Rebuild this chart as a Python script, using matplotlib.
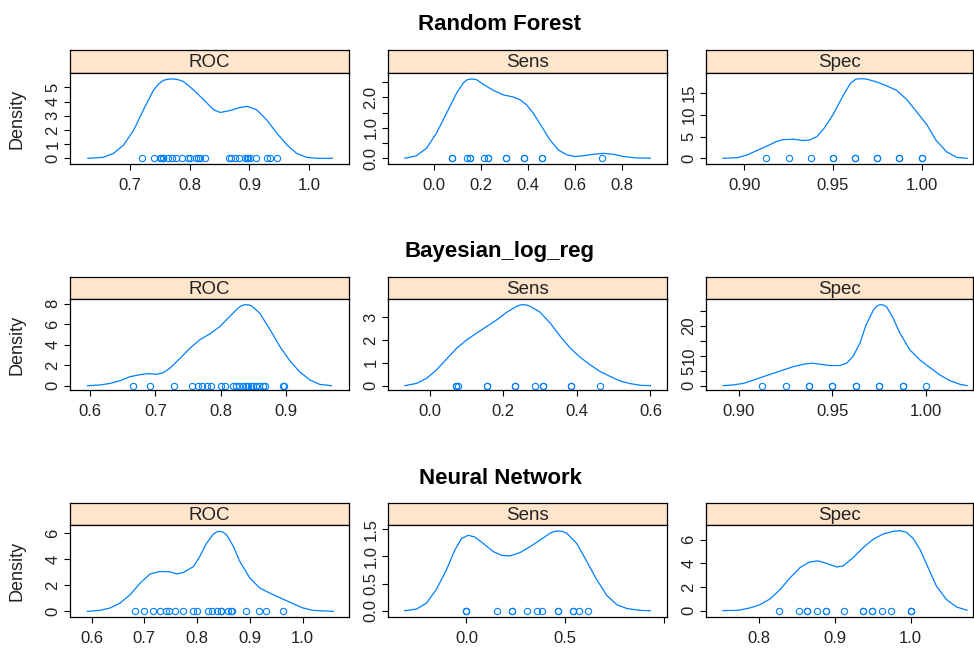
import matplotlib
matplotlib.use('Agg')
import matplotlib.pyplot as plt

plt.rcParams['font.family'] = ['Liberation Sans', 'DejaVu Sans']

# model titles and metric names
models = ['Random Forest', 'Bayesian_log_reg', 'Neural Network']
metrics = ['ROC', 'Sens', 'Spec']

# --- Random Forest ---
rf_roc_pts = [0.72, 0.74, 0.75, 0.752, 0.755, 0.755, 0.764, 0.77, 0.777, 0.787, 0.797, 0.80,
              0.811, 0.813, 0.817, 0.826, 0.866, 0.869, 0.876, 0.882, 0.893, 0.896, 0.898,
              0.901, 0.911, 0.929, 0.934, 0.946]
rf_roc_cx = [0.629, 0.655, 0.672, 0.689, 0.706, 0.722, 0.739, 0.748, 0.756, 0.765, 0.773, 0.781,
             0.789, 0.806, 0.823, 0.840, 0.851, 0.868, 0.884, 0.896, 0.912, 0.929, 0.946,
             0.963, 0.979, 0.996, 1.013, 1.039]
rf_roc_cy = [0, 0.07, 0.35, 0.94, 2.0, 3.4, 4.8, 5.25, 5.5, 5.58, 5.59, 5.53,
             5.42, 4.83, 4.13, 3.42, 3.23, 3.37, 3.58, 3.66, 3.42, 2.71, 1.77,
             0.94, 0.35, 0.07, 0, 0]

rf_sens_pts = [0.077, 0.077, 0.143, 0.154, 0.154, 0.214, 0.231, 0.231, 0.308, 0.308,
               0.385, 0.385, 0.462, 0.462, 0.714]
rf_sens_cx = [-0.124, -0.074, -0.031, 0.011, 0.054, 0.097, 0.125, 0.14, 0.153, 0.167, 0.182,
              0.210, 0.253, 0.296, 0.338, 0.367, 0.395, 0.423, 0.459, 0.494, 0.530, 0.566,
              0.601, 0.637, 0.679, 0.722, 0.764, 0.807, 0.864, 0.921]
rf_sens_cy = [0, 0.08, 0.33, 0.82, 1.48, 2.14, 2.47, 2.57, 2.60, 2.60, 2.58,
              2.43, 2.23, 2.08, 2.01, 1.92, 1.75, 1.48, 1.04, 0.60, 0.27, 0.11,
              0.055, 0.08, 0.13, 0.16, 0.13, 0.055, 0.01, 0]

rf_spec_pts = [0.9125, 0.925, 0.9375, 0.95, 0.95, 0.9625, 0.9625, 0.975, 0.975,
               0.9875, 0.9875, 1.0, 1.0]
rf_spec_cx = [0.888, 0.896, 0.9015, 0.907, 0.913, 0.918, 0.922, 0.928, 0.933, 0.937, 0.941,
              0.945, 0.950, 0.956, 0.960, 0.963, 0.966, 0.969, 0.975, 0.980, 0.986, 0.9916,
              0.997, 1.003, 1.008, 1.014, 1.0197, 1.0257]
rf_spec_cy = [0, 0.15, 0.77, 1.77, 2.85, 3.85, 4.3, 4.38, 4.08, 4.23, 5.0,
              6.9, 10.0, 14.6, 17.3, 18.2, 18.3, 18.2, 17.5, 16.7, 15.6, 13.5,
              10.8, 7.7, 4.23, 1.54, 0.23, 0]

# --- Bayesian_log_reg ---
bl_roc_pts = [0.665, 0.692, 0.729, 0.756, 0.766, 0.771, 0.779, 0.786, 0.80, 0.807, 0.819,
              0.824, 0.829, 0.834, 0.839, 0.842, 0.846, 0.85, 0.855, 0.859, 0.865, 0.868,
              0.896, 0.898]
bl_roc_cx = [0.596, 0.615, 0.631, 0.646, 0.661, 0.677, 0.689, 0.702, 0.712, 0.722, 0.738,
             0.753, 0.768, 0.784, 0.799, 0.814, 0.827, 0.832, 0.837, 0.842, 0.847, 0.860,
             0.876, 0.891, 0.906, 0.921, 0.937, 0.952, 0.970]
bl_roc_cy = [0, 0.07, 0.23, 0.49, 0.88, 1.08, 1.18, 1.11, 1.27, 1.70, 2.68,
             3.66, 4.48, 5.07, 5.78, 6.76, 7.58, 7.8, 7.9, 7.9, 7.81, 7.09,
             5.46, 3.82, 2.45, 1.37, 0.56, 0.13, 0]

bl_sens_pts = [0.0714, 0.0714, 0.0769, 0.154, 0.154, 0.231, 0.231, 0.286, 0.308, 0.308,
               0.385, 0.385, 0.462]
bl_sens_cx = [-0.068, -0.036, -0.009, 0.018, 0.045, 0.073, 0.1, 0.127, 0.155, 0.182, 0.209,
              0.236, 0.246, 0.255, 0.264, 0.273, 0.3, 0.327, 0.355, 0.382, 0.409, 0.436,
              0.464, 0.491, 0.518, 0.545, 0.573, 0.6]
bl_sens_cy = [0, 0.10, 0.32, 0.69, 1.16, 1.64, 2.0, 2.30, 2.59, 2.88, 3.21,
              3.47, 3.53, 3.54, 3.52, 3.47, 3.21, 2.74, 2.15, 1.64, 1.24, 0.91,
              0.61, 0.40, 0.20, 0.09, 0.015, 0]

bl_spec_pts = [0.9125, 0.925, 0.9375, 0.9375, 0.95, 0.95, 0.9625, 0.9625, 0.975, 0.975,
               0.9875, 0.9875, 1.0]
bl_spec_cx = [0.8917, 0.897, 0.9027, 0.908, 0.9133, 0.9186, 0.924, 0.9293, 0.9346, 0.939,
              0.9434, 0.9488, 0.954, 0.9576, 0.961, 0.9647, 0.968, 0.9718, 0.9736, 0.9754,
              0.9772, 0.979, 0.9824, 0.986, 0.9913, 0.9966, 1.002, 1.0073, 1.0126, 1.018,
              1.0218]
bl_spec_cy = [0, 0.22, 0.78, 1.9, 3.03, 4.15, 5.27, 6.39, 7.17, 7.51,
              7.17, 6.73, 6.73, 7.51, 9.75, 14.2, 20.4, 25.2, 26.6, 27.1,
              27.0, 26.3, 22.6, 17.6, 12.0, 8.63, 6.05, 3.59, 1.68, 0.45,
              0]

# --- Neural Network ---
nn_roc_pts = [0.682, 0.699, 0.717, 0.7295, 0.741, 0.747, 0.758, 0.7725, 0.7915, 0.799,
              0.82, 0.829, 0.838, 0.8445, 0.8445, 0.8445, 0.859, 0.865, 0.867, 0.8926,
              0.917, 0.93, 0.962]
nn_roc_cx = [0.592, 0.616, 0.635, 0.654, 0.673, 0.692, 0.711, 0.7295, 0.7485, 0.761, 0.774,
             0.793, 0.805, 0.818, 0.831, 0.837, 0.843, 0.849, 0.856, 0.869, 0.881, 0.900,
             0.919, 0.938, 0.963, 0.982, 1.001, 1.020, 1.058]
nn_roc_cy = [0, 0.08, 0.26, 0.64, 1.28, 2.17, 2.88, 3.06, 3.04, 2.88, 2.98,
             3.44, 4.21, 5.23, 5.94, 6.1, 6.15, 6.08, 5.87, 4.97, 3.83, 2.55,
             1.79, 1.40, 0.94, 0.59, 0.26, 0.08, 0]

nn_sens_pts = [0.0, 0.0, 0.0, 0.154, 0.231, 0.231, 0.308, 0.357, 0.385, 0.462, 0.462,
               0.538, 0.538, 0.571, 0.615]
nn_sens_cx = [-0.314, -0.254, -0.203, -0.153, -0.102, -0.059, -0.025, 0.0085, 0.042, 0.085,
              0.136, 0.178, 0.22, 0.271, 0.322, 0.373, 0.424, 0.446, 0.466, 0.487, 0.508,
              0.559, 0.61, 0.661, 0.712, 0.763, 0.814, 0.881, 0.932]
nn_sens_cy = [0, 0.03, 0.14, 0.39, 0.75, 1.12, 1.33, 1.39, 1.36, 1.24,
              1.09, 1.02, 1.01, 1.07, 1.18, 1.30, 1.43, 1.46, 1.47, 1.46, 1.43,
              1.24, 0.91, 0.57, 0.28, 0.11, 0.04, 0.006, 0]

nn_spec_pts = [0.8268, 0.853, 0.8637, 0.8637, 0.876, 0.8884, 0.8884, 0.9125, 0.9367, 0.9367,
               0.9495, 0.9495, 0.9618, 0.974, 1.0, 1.0, 1.0]
nn_spec_cx = [0.752, 0.773, 0.788, 0.8013, 0.8145, 0.8277, 0.8409, 0.854, 0.867, 0.878,
              0.889, 0.9024, 0.911, 0.9244, 0.9376, 0.951, 0.964, 0.977, 0.986, 0.9947,
              1.0035, 1.0123, 1.0233, 1.0343, 1.0475, 1.0607, 1.0747]
nn_spec_cy = [0, 0.03, 0.23, 0.51, 0.99, 1.79, 2.78, 3.64, 4.12, 4.20,
              4.0, 3.69, 3.78, 4.49, 5.34, 6.05, 6.48, 6.7, 6.76, 6.62,
              6.1, 5.2, 3.64, 2.07, 0.94, 0.31, 0.03]

panels = [
    [(rf_roc_pts, rf_roc_cx, rf_roc_cy), (rf_sens_pts, rf_sens_cx, rf_sens_cy), (rf_spec_pts, rf_spec_cx, rf_spec_cy)],
    [(bl_roc_pts, bl_roc_cx, bl_roc_cy), (bl_sens_pts, bl_sens_cx, bl_sens_cy), (bl_spec_pts, bl_spec_cx, bl_spec_cy)],
    [(nn_roc_pts, nn_roc_cx, nn_roc_cy), (nn_sens_pts, nn_sens_cx, nn_sens_cy), (nn_spec_pts, nn_spec_cx, nn_spec_cy)],
]

# axis setup per panel: xlim, ylim, xticks, xlabels, yticks, ylabels
axis_cfg = [
    [((0.599, 1.067), (-0.4, 6.01), [0.7, 0.8, 0.9, 1.0], ['0.7', '0.8', '0.9', '1.0'],
      [0, 1, 2, 3, 4, 5], ['0', '1', '2', '3', '4', '5']),
     ((-0.195, 0.992), (-0.19, 2.80), [0, 0.2, 0.4, 0.6, 0.8], ['0.0', '0.2', '0.4', '0.6', '0.8'],
      [0, 0.5, 1.0, 1.5, 2.0, 2.5], ['0.0', '', '1.0', '', '2.0', '']),
     ((0.8784, 1.029), (-1.3, 19.6), [0.90, 0.95, 1.00], ['0.90', '0.95', '1.00'],
      [0, 5, 10, 15], ['0', '5', '10', '15'])],
    [((0.569, 0.997), (-0.42, 8.46), [0.6, 0.7, 0.8, 0.9], ['0.6', '0.7', '0.8', '0.9'],
      [0, 2, 4, 6, 8], ['0', '2', '4', '6', '8']),
     ((-0.114, 0.645), (-0.19, 3.79), [0, 0.2, 0.4, 0.6], ['0.0', '0.2', '0.4', '0.6'],
      [0, 1, 2, 3], ['0', '1', '2', '3']),
     ((0.8826, 1.025), (-1.46, 29.0), [0.90, 0.95, 1.00], ['0.90', '0.95', '1.00'],
      [0, 5, 10, 15, 20, 25], ['0', '5', '10', '', '20', ''])],
    [((0.559, 1.088), (-0.43, 6.63), [0.6, 0.7, 0.8, 0.9, 1.0], ['0.6', '0.7', '0.8', '0.9', '1.0'],
      [0, 2, 4, 6], ['0', '2', '4', '6']),
     ((-0.398, 1.017), (-0.116, 1.58), [0, 0.5, 1.0], ['0.0', '0.5', ''],
      [0, 0.5, 1.0, 1.5], ['0.0', '0.5', '1.0', '1.5']),
     ((0.7297, 1.0826), (-0.54, 7.24), [0.8, 0.9, 1.0], ['0.8', '0.9', '1.0'],
      [0, 2, 4, 6], ['0', '2', '4', '6'])],
]

W, H = 974, 650
fig = plt.figure(figsize=(W / 100, H / 100), dpi=100)

# pixel layout
col_x = [(70, 349), (388, 667), (706, 973)]
row_y = [(50, 73, 164), (277, 299, 390), (503, 525, 617)]
title_y = [25, 252, 478]
line_col = '#0080ff'
strip_col = '#ffe5cc'
txt_col = '#222222'

for r in range(3):
    fig.text(500 / W, 1 - title_y[r] / H, models[r], ha='center', va='center',
             fontsize=16, fontweight='bold', color='black')
    s_top, s_bot, p_bot = row_y[r]
    for c in range(3):
        x0, x1 = col_x[c]
        # strip
        sax = fig.add_axes([x0 / W, 1 - s_bot / H, (x1 - x0) / W, (s_bot - s_top) / H])
        sax.set_facecolor(strip_col)
        sax.set_xticks([])
        sax.set_yticks([])
        for sp in sax.spines.values():
            sp.set_linewidth(0.9)
        sax.text(0.5, 0.45, metrics[c], ha='center', va='center', fontsize=13.5,
                 color=txt_col, transform=sax.transAxes)
        # panel
        ax = fig.add_axes([x0 / W, 1 - p_bot / H, (x1 - x0) / W, (p_bot - s_bot) / H])
        pts, cx, cy = panels[r][c]
        xlim, ylim, xt, xl, yt, yl = axis_cfg[r][c]
        ax.plot(cx, cy, color=line_col, lw=0.9)
        ax.plot(pts, [0] * len(pts), linestyle='none', marker='o', ms=4.5,
                mfc='none', mec=line_col, mew=0.8)
        ax.set_xlim(xlim)
        ax.set_ylim(ylim)
        ax.set_xticks(xt)
        ax.set_xticklabels(xl, fontsize=12, color=txt_col)
        ax.set_yticks(yt)
        ax.set_yticklabels(yl, fontsize=12, rotation=90, va='center', color=txt_col)
        ax.tick_params(direction='out', length=4, width=0.8, pad=3)
        ax.tick_params(axis='x', pad=6)
        for sp in ax.spines.values():
            sp.set_linewidth(0.9)
        if c == 0:
            ax.set_ylabel('Density', fontsize=13, labelpad=14, color=txt_col)

fig.savefig('out.png', dpi=100)
